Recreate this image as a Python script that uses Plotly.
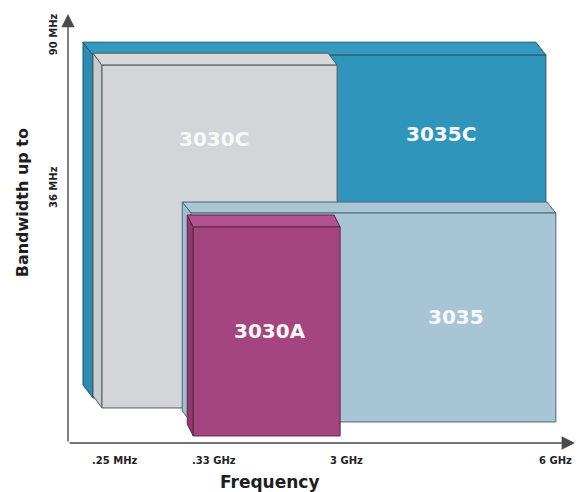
import plotly.graph_objects as go

# ---------------- data ----------------
freq_labels = [".25 MHz", ".33 GHz", "3 GHz", "6 GHz"]
freq_pos = [4.9, 22.2, 51.0, 93.7]          # schematic position on frequency axis
bw_labels = ["36 MHz", "90 MHz"]
bw_pos = [48.7, 79.9]                        # schematic position on bandwidth axis

products = ["3035C", "3030C", "3035", "3030A"]          # back to front
prod_from = [".25 MHz", ".25 MHz", ".33 GHz", ".33 GHz"]
prod_to = ["6 GHz", "3 GHz", "6 GHz", "3 GHz"]
prod_bw = ["90 MHz", "90 MHz", "36 MHz", "36 MHz"]

# ---------------- styles ----------------
# the page body has an 8px default margin, so the figure is sized to fit the window
W, H = 574, 484
ML, MR, MT, MB = 60, 4, 6, 49
PW, PH = W - ML - MR, H - MT - MB
XR = (0, 100)
YR = (-10.5, 89.5)
kx = PW / (XR[1] - XR[0])
ky = PH / (YR[1] - YR[0])

front_col = ["#2F95BA", "#D3D5D8", "#A8C5D6", "#A4457F"]
top_col = ["#3399BE", "#D6D8DB", "#A9C6D6", "#B0528D"]
side_col = ["#2A8CB0", "#C9CCCF", "#9FBED0", "#8E3A70"]
edge_col = ["#24566b", "#555b60", "#4f6672", "#5e2448"]
stack_px = [(0, 0), (9, 10), (10, 24), (12, 38)]   # 3-D stacking shift of each layer
depth_px = [(10, 13), (9, 12), (9, 11), (6, 12)]   # visible depth of each box
label_nudge = [(0, 0), (-6, 0), (8, 0), (3, 0)]    # small text nudges (px)
freq_lbl_shift = [-3, 9, 0, -9]
bw_lbl_shift = [2, 21]
FONT = "DejaVu Sans"
AXIS_COL = "#4a4a4a"

fx = dict(zip(freq_labels, freq_pos))
by = dict(zip(bw_labels, bw_pos))

fig = go.Figure()

boxes = []
for i, name in enumerate(products):
    sx, sy = stack_px[i]
    x0 = fx[prod_from[i]] + sx / kx
    x1 = fx[prod_to[i]] + sx / kx
    y1 = by[prod_bw[i]] - sy / ky
    y0 = 0 - sy / ky
    boxes.append((x0, x1, y0, y1))
    ax_, ay_ = depth_px[i]
    bx, bby = -ax_ / kx, ay_ / ky
    polys = [
        ([x0, x0 + bx, x0 + bx, x0, x0], [y1, y1 + bby, y0 + bby, y0, y1], side_col[i]),
        ([x0, x0 + bx, x1 + bx, x1, x0], [y1, y1 + bby, y1 + bby, y1, y1], top_col[i]),
        ([x0, x1, x1, x0, x0], [y0, y0, y1, y1, y0], front_col[i]),
    ]
    for px_, py_, c in polys:
        fig.add_trace(go.Scatter(x=px_, y=py_, mode="lines", fill="toself",
                                 fillcolor=c, line=dict(color=edge_col[i], width=1),
                                 hoverinfo="skip", showlegend=False))

# product labels centred in the visible part of each front face
for i, name in enumerate(products):
    x0, x1, y0, y1 = boxes[i]
    xl, ylo = x0, y0
    for j in range(i + 1, len(products)):
        jx0, jx1, jy0, jy1 = boxes[j]
        if jx1 <= x0 or jx0 >= x1:
            continue
        if prod_bw[j] == prod_bw[i] and prod_from[j] == prod_from[i]:
            xl = max(xl, jx1)
        elif jy1 < y1:
            ylo = max(ylo, jy1)
    fig.add_annotation(x=(xl + x1) / 2, y=(ylo + y1) / 2, text=name, showarrow=False,
                       xanchor="center", yanchor="middle",
                       xshift=label_nudge[i][0], yshift=label_nudge[i][1],
                       font=dict(family=FONT, size=20, color="#F7F8FA", weight=700))

# axes with arrows
fig.add_annotation(xref="x domain", yref="y domain", axref="x domain", ayref="y domain",
                   x=0, y=1.0, ax=0, ay=0, text="", showarrow=True, arrowhead=2,
                   arrowsize=1.9, arrowwidth=1.4, arrowcolor=AXIS_COL, standoff=0)
fig.add_annotation(xref="x domain", yref="y domain", axref="x domain", ayref="y domain",
                   x=0.994, y=0, ax=0, ay=0, text="", showarrow=True, arrowhead=2,
                   arrowsize=1.9, arrowwidth=1.4, arrowcolor=AXIS_COL, standoff=0)

# tick labels
for lab, pos, sh in zip(freq_labels, freq_pos, freq_lbl_shift):
    fig.add_annotation(x=pos, xref="x", y=0, yref="y domain", text=lab, showarrow=False,
                       xanchor="left", yanchor="middle", xshift=sh, yshift=-17,
                       font=dict(family=FONT, size=10, color="#222", weight=700))
for lab, pos, sh in zip(bw_labels, bw_pos, bw_lbl_shift):
    fig.add_annotation(x=0, xref="x domain", y=pos, yref="y", text=lab, showarrow=False,
                       textangle=-90, xanchor="center", yanchor="middle", xshift=-15, yshift=sh,
                       font=dict(family=FONT, size=10, color="#222", weight=700))

# axis titles
fig.add_annotation(xref="paper", yref="paper", x=-0.090, y=0.559, text="Bandwidth up to",
                   textangle=-90, showarrow=False, xanchor="center", yanchor="middle",
                   font=dict(family=FONT, size=16, color="#1e1e1e", weight=700))
fig.add_annotation(xref="paper", yref="paper", x=0.396, y=-0.091, text="Frequency",
                   showarrow=False, xanchor="center", yanchor="middle",
                   font=dict(family=FONT, size=17, color="#1e1e1e", weight=700))

fig.update_layout(
    width=W, height=H, margin=dict(l=ML, r=MR, t=MT, b=MB),
    plot_bgcolor="white", paper_bgcolor="white", showlegend=False,
    xaxis=dict(range=list(XR), visible=False, fixedrange=True),
    yaxis=dict(range=list(YR), visible=False, fixedrange=True),
)

fig.write_html("out.html")
